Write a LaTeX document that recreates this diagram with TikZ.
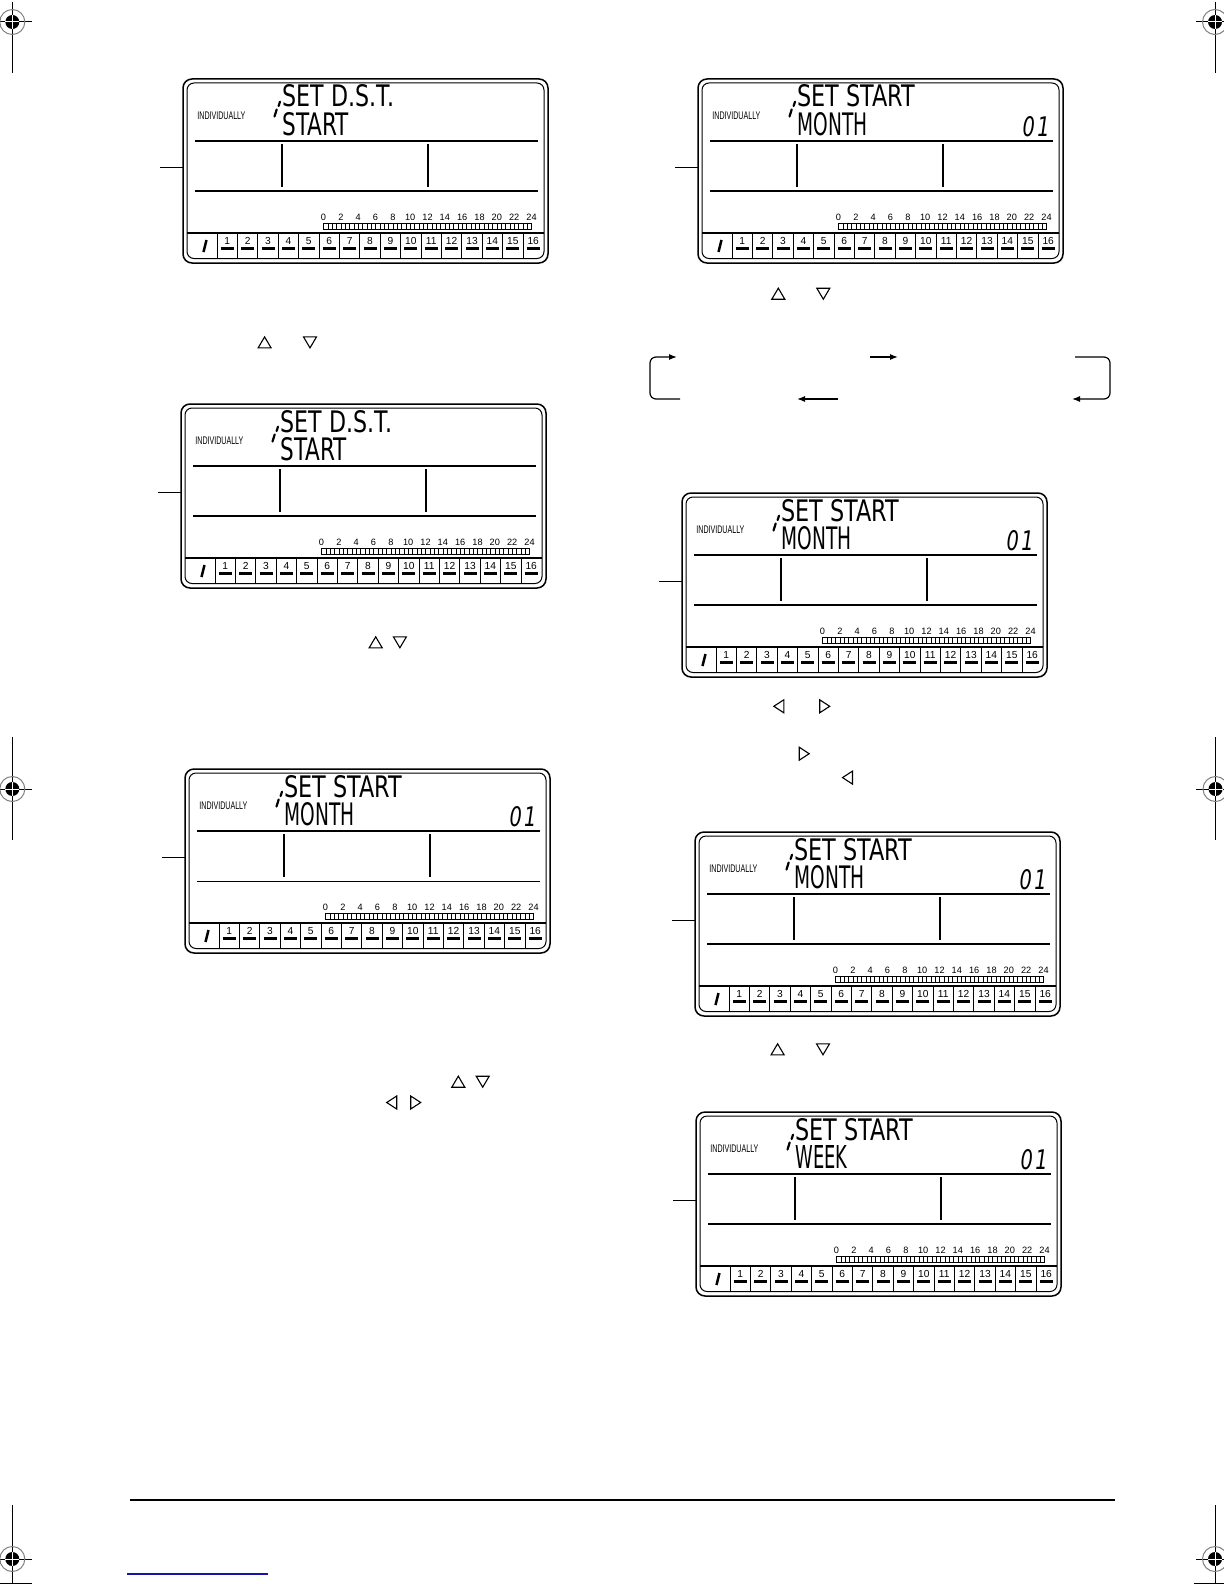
\documentclass[tikz,border=0pt]{standalone}
\usepackage{fontspec}
\usetikzlibrary{arrows.meta}
\newfontfamily\lcdbig{DejaVu Sans}
\newfontfamily\lcdsm{Liberation Sans}
\definecolor{linkblue}{RGB}{20,20,170}

\tikzset{
  outerframe/.style={line width=0.75pt, rounded corners=4.5pt},
  innerframe/.style={line width=0.5pt, rounded corners=3.5pt},
  thickrule/.style={line width=1.2pt},
  midrule/.style={line width=0.75pt},
  thinrule/.style={line width=0.45pt},
  tickrule/.style={line width=0.3pt},
  leader/.style={line width=0.5pt},
  bigtxt/.style={inner sep=0pt, anchor=base west, font=\lcdbig},
  celltxt/.style={inner sep=0pt, anchor=base, font=\lcdsm\fontsize{5.1}{6}\selectfont},
  hourtxt/.style={inner sep=0pt, anchor=base, font=\lcdsm\fontsize{4.6}{5}\selectfont},
  segbar/.style={line width=1.5pt},
  seg/.style={line width=1.1pt, line cap=round},
  keytri/.style={line width=0.55pt, line join=miter},
  flow/.style={line width=0.6pt, -{Latex[length=4pt,width=3pt]}, rounded corners=3pt},
  regline/.style={line width=0.5pt},
}

\newcommand\lcdnum[1]{\node[inner sep=0pt, anchor=base east, font=\lcdbig\itshape] (#1-num) at (352,57) {\resizebox{13.5pt}{10pt}{0\kern0.12em1}};}

% #1 name, #2 x, #3 y, #4 line 1, #5 its width, #6 line 2, #7 its width, #8 extra, #9 style of lower rule
\newcommand\lcdpanel[9]{%
\begin{scope}[shift={(#2,#3)}]
  \draw[outerframe] (0,0) rectangle (365,184);
  \draw[innerframe] (4,4) rectangle (361,179.5);
  \draw[leader] (-23,88) -- (0,88);
  \node[inner sep=0pt, anchor=base west, font=\lcdsm] (#1-ind) at (14,40.3) {\resizebox{24pt}{3.8pt}{INDIVIDUALLY}};
  \draw[seg] (97,22.7) -- (95.6,27);
  \draw[seg] (93.7,30.5) -- (91.5,37.5);
  \node[bigtxt] (#1-l1) at (99,28) {\resizebox{#5}{11pt}{#4}};
  \node[bigtxt] (#1-l2) at (99,56) {\resizebox{#7}{11.5pt}{#6}};
  #8
  \draw[thickrule] (12,62) -- (355,62);
  \draw[#9] (12,112) -- (355,112);
  \draw[midrule] (99,65) -- (99,108);
  \draw[midrule] (245,65) -- (245,108);
  \draw[thinrule] (140.5,144.5) rectangle (348.5,150.5);
  \foreach \i in {1,...,47} \draw[tickrule] ({140.5+\i*208/48},144.5) -- ++(0,6);
  \foreach \h in {0,2,...,24} \node[hourtxt] (#1-h\h) at ({140.5+\h*208/24},141) {\h};
  \draw[midrule] (4,154) -- (361,154);
  \foreach \k in {0,...,15} \draw[thinrule] ({34+\k*20.4},154) -- ({34+\k*20.4},179.5);
  \foreach \c in {1,...,16} {
    \node[celltxt] (#1-c\c) at ({34+(\c-0.5)*20.4},165) {\c};
    \draw[segbar] ({34+(\c-0.5)*20.4-6.5},169.5) -- ++(13,0);
  }
  \draw[line width=1.25pt] (23.5,161) -- (20.5,173);
\end{scope}}

\newcommand\triup[2]{\draw[keytri] (#1-6.5,#2+5.5) -- (#1+6.5,#2+5.5) -- (#1,#2-5.5) -- cycle;}
\newcommand\tridown[2]{\draw[keytri] (#1-6.5,#2-5.5) -- (#1+6.5,#2-5.5) -- (#1,#2+5.5) -- cycle;}
\newcommand\trileft[2]{\draw[keytri] (#1+5,#2-6.5) -- (#1+5,#2+6.5) -- (#1-5,#2) -- cycle;}
\newcommand\triright[2]{\draw[keytri] (#1-5,#2-6.5) -- (#1-5,#2+6.5) -- (#1+5,#2) -- cycle;}

\newcommand\regmark[6]{%
  \draw[regline] (#3,#2) -- (#4,#2);
  \draw[regline] (#1,#5) -- (#1,#6);
  \draw[regline, gray] (#1,#2) circle[radius=6.25pt];
  \fill (#1,#2) circle[radius=3.5pt];
  \draw[white, line width=0.5pt] (#1-7,#2) -- (#1+7,#2) (#1,#2-7) -- (#1,#2+7);
}

\begin{document}
\begin{tikzpicture}[x=0.5pt, y=-0.5pt]
\fill[white] (0,0) rectangle (1224,1584);
\useasboundingbox (0,0) rectangle (1224,1584);

% registration marks
\regmark{12.3}{22}{0}{32}{2}{73}
\regmark{1215}{22}{1196}{1224}{2}{73}
\regmark{12.3}{789}{0}{32}{737}{840}
\regmark{1215.5}{789}{1196}{1224}{737}{840}
\regmark{12.3}{1559}{0}{32}{1505}{1584}
\regmark{1215}{1559}{1196}{1224}{1505}{1584}
\draw[regline] (0,1583) -- (32,1583);
\draw[regline] (1194,1583) -- (1224,1583);

% LCD panels
\lcdpanel{p1}{183}{79}{SET D.S.T.}{55.9pt}{START}{33.3pt}{}{thickrule}
\lcdpanel{p2}{698}{79}{SET START}{59pt}{MONTH}{35pt}{\lcdnum{p2}}{thickrule}
\lcdpanel{p3}{181}{404}{SET D.S.T.}{55.9pt}{START}{33.3pt}{}{thickrule}
\lcdpanel{p4}{682}{493}{SET START}{59pt}{MONTH}{35pt}{\lcdnum{p4}}{thickrule}
\lcdpanel{p5}{185}{769}{SET START}{59pt}{MONTH}{35pt}{\lcdnum{p5}}{thinrule}
\lcdpanel{p6}{695}{832}{SET START}{59pt}{MONTH}{35pt}{\lcdnum{p6}}{thickrule}
\lcdpanel{p7}{696}{1112}{SET START}{59pt}{WEEK}{26pt}{\lcdnum{p7}}{thickrule}

% key symbols
\triup{264.6}{342.4} \tridown{310}{342.4}
\triup{375.7}{642.3} \tridown{399.9}{642.3}
\triup{458.3}{1081.7} \tridown{482.7}{1081.7}
\trileft{391.7}{1102.5} \triright{415.7}{1102.5}
\triup{778.3}{293.7} \tridown{823.3}{293.7}
\trileft{778.8}{706.3} \triright{824.7}{706.3}
\triright{804.2}{753.7}
\trileft{847.5}{777.6}
\triup{777.6}{1049.3} \tridown{823}{1049.3}

% cycle arrows
\coordinate (loopLs) at (680,399);
\coordinate (loopLe) at (677,357);
\coordinate (midTs) at (870,357);
\coordinate (midTe) at (898,357);
\coordinate (midBs) at (838,399);
\coordinate (midBe) at (797,399);
\coordinate (loopRs) at (1075,357);
\coordinate (loopRe) at (1072,399);
\draw[flow] (loopLs) -- ++(-30,0) |- (loopLe);
\draw[flow] (midTs) -- (midTe);
\draw[flow] (midBs) -- (midBe);
\draw[flow] (loopRs) -- ++(35,0) |- (loopRe);

% footer
\draw[line width=0.6pt] (130,1500) -- (1115,1500);
\draw[line width=0.6pt, linkblue] (127,1574) -- (268,1574);
\end{tikzpicture}
\end{document}
